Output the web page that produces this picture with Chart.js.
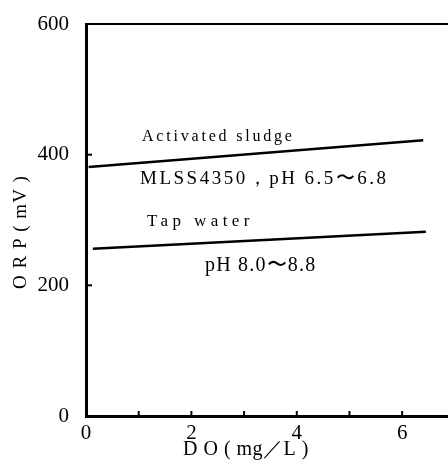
<!DOCTYPE html>
<html>
<head>
<meta charset="utf-8">
<script src="https://cdn.jsdelivr.net/npm/chart.js@4/dist/chart.umd.min.js"></script>
<style>
  html, body { margin: 0; padding: 0; background: #fff; }
  canvas { display: block; }
</style>
</head>
<body>
<canvas id="chart" width="448" height="464"></canvas>
<script>
  // ----------------------------------------------------------
  // Données (ORP en fonction de DO)
  // ----------------------------------------------------------
  const doSludge  = [0.05, 6.4];
  const orpSludge = [381, 422];
  const doTap     = [0.13, 6.45];
  const orpTap    = [256, 282];

  const xTickValues = [0, 1, 2, 3, 4, 5, 6];
  const xLabelValues = [0, 2, 4, 6];
  const yTickValues = [0, 200, 400, 600];

  const SERIF = "'Liberation Serif', 'DejaVu Serif', serif";

  // Annotations (texte sur le graphique)
  const notes = [
    { text: 'Activated sludge',          x: 142, y: 141, size: 16, spacing: 2.8 },
    { text: 'MLSS4350，pH 6.5〜6.8',     x: 140, y: 184, size: 19, spacing: 2.5 },
    { text: 'Tap water',                 x: 147, y: 226, size: 17, spacing: 4.4 },
    { text: 'pH 8.0〜8.8',               x: 205, y: 271, size: 20, spacing: 1.2 },
  ];

  // ----------------------------------------------------------
  // Plugin : cadre supérieur, graduations internes, textes
  // ----------------------------------------------------------
  const decorPlugin = {
    id: 'decor',
    afterDraw(chart) {
      const { ctx, chartArea: a, scales: { x, y } } = chart;
      ctx.save();
      ctx.strokeStyle = '#000';

      // ligne du haut
      ctx.lineWidth = 2;
      ctx.beginPath();
      ctx.moveTo(a.left, a.top);
      ctx.lineTo(a.right, a.top);
      ctx.stroke();

      // graduations vers l'intérieur
      ctx.lineWidth = 2;
      xTickValues.slice(1).forEach((v) => {
        const px = x.getPixelForValue(v);
        ctx.beginPath();
        ctx.moveTo(px, a.bottom);
        ctx.lineTo(px, a.bottom - 5);
        ctx.stroke();
      });
      [200, 400].forEach((v) => {
        const py = y.getPixelForValue(v);
        ctx.beginPath();
        ctx.moveTo(a.left, py);
        ctx.lineTo(a.left + 6, py);
        ctx.stroke();
      });

      // textes
      ctx.fillStyle = '#000';
      ctx.textBaseline = 'alphabetic';
      ctx.textAlign = 'left';
      notes.forEach((n) => {
        ctx.font = n.size + 'px ' + SERIF;
        ctx.letterSpacing = n.spacing + 'px';
        ctx.fillText(n.text, n.x, n.y);
      });

      // titres des axes
      ctx.font = '20px ' + SERIF;
      ctx.letterSpacing = '0.5px';
      ctx.textAlign = 'center';
      ctx.textBaseline = 'middle';
      ctx.fillText('D O ( mg／L )', 246, 450);

      ctx.translate(21, 232);
      ctx.rotate(-Math.PI / 2);
      ctx.font = '19px ' + SERIF;
      ctx.letterSpacing = '1px';
      ctx.fillText('O R P ( mV )', 0, 0);
      ctx.restore();
    },
  };

  new Chart(document.getElementById('chart'), {
    type: 'scatter',
    data: {
      datasets: [
        {
          label: 'Activated sludge',
          data: doSludge.map((d, i) => ({ x: d, y: orpSludge[i] })),
          showLine: true,
          borderColor: '#000',
          borderWidth: 2.5,
          pointRadius: 0,
        },
        {
          label: 'Tap water',
          data: doTap.map((d, i) => ({ x: d, y: orpTap[i] })),
          showLine: true,
          borderColor: '#000',
          borderWidth: 2.5,
          pointRadius: 0,
        },
      ],
    },
    options: {
      responsive: false,
      animation: false,
      layout: { padding: { top: 24, right: 0, left: 0, bottom: 0 } },
      plugins: {
        legend:  { display: false },
        tooltip: { enabled: false },
      },
      scales: {
        x: {
          type: 'linear',
          min: 0,
          max: 6.87,
          afterFit: (s) => { s.height = 48; },
          afterBuildTicks: (s) => { s.ticks = xTickValues.map((v) => ({ value: v })); },
          grid:   { display: false },
          border: { display: true, color: '#000', width: 3 },
          ticks: {
            color: '#000',
            font: { family: SERIF, size: 21 },
            padding: -3,
            maxRotation: 0,
            autoSkip: false,
            callback: (v) => (xLabelValues.includes(v) ? String(v) : ''),
          },
        },
        y: {
          type: 'linear',
          min: 0,
          max: 600,
          afterFit: (s) => { s.width = 86; },
          afterBuildTicks: (s) => { s.ticks = yTickValues.map((v) => ({ value: v })); },
          grid:   { display: false },
          border: { display: true, color: '#000', width: 3 },
          ticks: {
            color: '#000',
            font: { family: SERIF, size: 21 },
            padding: 9,
            callback: (v) => String(v),
          },
        },
      },
    },
    plugins: [decorPlugin],
  });
</script>
</body>
</html>
